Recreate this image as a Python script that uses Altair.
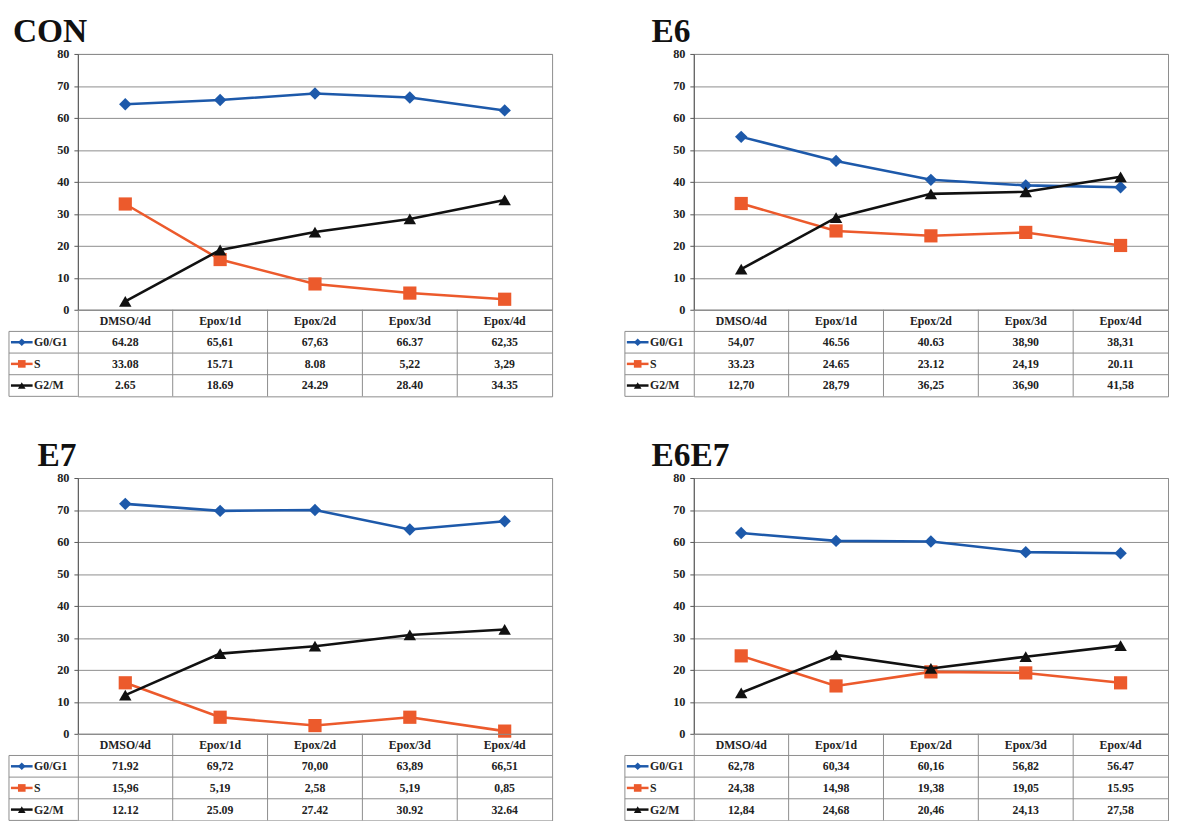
import altair as alt
import pandas as pd

categories = ["DMSO/4d", "Epox/1d", "Epox/2d", "Epox/3d", "Epox/4d"]
series = ["G0/G1", "S", "G2/M"]
series_colors = ["#1d59aa", "#ec5a2c", "#111111"]
series_shapes = ["diamond", "square", "triangle-up"]
marker_sizes = [160, 180, 160]
y_ticks = [0, 10, 20, 30, 40, 50, 60, 70, 80]

con_g0g1 = ["64.28", "65,61", "67,63", "66.37", "62,35"]
con_s = ["33.08", "15.71", "8.08", "5,22", "3,29"]
con_g2m = ["2.65", "18.69", "24.29", "28.40", "34.35"]

e6_g0g1 = ["54,07", "46.56", "40.63", "38,90", "38,31"]
e6_s = ["33.23", "24.65", "23.12", "24,19", "20.11"]
e6_g2m = ["12,70", "28,79", "36,25", "36,90", "41,58"]

e7_g0g1 = ["71.92", "69,72", "70,00", "63,89", "66,51"]
e7_s = ["15,96", "5,19", "2,58", "5,19", "0,85"]
e7_g2m = ["12.12", "25.09", "27.42", "30.92", "32.64"]

e6e7_g0g1 = ["62,78", "60,34", "60,16", "56,82", "56.47"]
e6e7_s = ["24,38", "14,98", "19,38", "19,05", "15.95"]
e6e7_g2m = ["12,84", "24,68", "20,46", "24,13", "27,58"]

FONT = "Liberation Serif, DejaVu Serif, serif"
GRID = "#8c8c8c"
W = 482
H = 260
TH = 88
LEG = 70
table_rows = ["hdr"] + series


def long_df(rows):
    recs = []
    for s, labels in zip(series, rows):
        for c, lab in zip(categories, labels):
            recs.append({"category": c, "series": s, "label": lab,
                         "value": float(lab.replace(",", "."))})
    return pd.DataFrame(recs)


def line_chart(df):
    x = alt.X("category:N", sort=categories,
              scale=alt.Scale(type="point", domain=categories, padding=0.5),
              axis=None)
    y = alt.Y("value:Q", scale=alt.Scale(domain=[0, 80], nice=False),
              axis=alt.Axis(values=y_ticks, title=None, grid=True,
                            gridColor=GRID, gridWidth=1,
                            domainColor="#555", tickColor="#555", tickSize=4,
                            labelPadding=5, labelFont=FONT,
                            labelFontWeight="bold", labelFontSize=12.5,
                            labelColor="#222"))
    layers = []
    for s, col, sh, sz in zip(series, series_colors, series_shapes, marker_sizes):
        b = alt.Chart(df).transform_filter(alt.datum.series == s).encode(x=x, y=y)
        layers.append(b.mark_line(color=col, strokeWidth=2.6))
        layers.append(b.mark_point(shape=sh, size=sz, filled=True, color=col, opacity=1))
    return alt.layer(*layers).properties(width=W, height=H)


def table_chart(df):
    hdr = pd.DataFrame({"col": categories, "row": "hdr", "text": categories})
    body = pd.DataFrame({"col": df["category"], "row": df["series"], "text": df["label"]})
    tdf = pd.concat([hdr, body], ignore_index=True)
    sx = alt.Scale(type="band", domain=categories, paddingInner=0, paddingOuter=0)
    sy = alt.Scale(type="band", domain=table_rows, paddingInner=0, paddingOuter=0)
    yaxis = alt.Axis(title=None, ticks=False, tickSize=0, domain=False, grid=False,
                     labelAlign="left", labelPadding=45,
                     labelExpr="datum.value == 'hdr' ? '' : datum.value",
                     labelFont=FONT, labelFontWeight="bold", labelFontSize=12,
                     labelColor="#222")

    text = alt.Chart(tdf).mark_text(font=FONT, fontWeight="bold", fontSize=12,
                                    color="#222").encode(
        x=alt.X("col:N", scale=sx, axis=None),
        y=alt.Y("row:N", scale=sy, axis=yaxis),
        text="text:N")
    vlines = alt.Chart(pd.DataFrame({"col": categories[1:]})).mark_rule(color=GRID).encode(
        x=alt.X("col:N", scale=sx, axis=None, bandPosition=0),
        y=alt.value(0), y2=alt.value(TH))
    hlines = alt.Chart(pd.DataFrame({"row": series})).mark_rule(color=GRID).encode(
        y=alt.Y("row:N", scale=sy, axis=yaxis, bandPosition=0),
        x=alt.value(-LEG), x2=alt.value(W))
    leg_left = alt.Chart(pd.DataFrame({"row": [series[0]]})).mark_rule(color=GRID).encode(
        y=alt.Y("row:N", scale=sy, axis=yaxis, bandPosition=0),
        y2=alt.value(TH), x=alt.value(-LEG))
    leg_bottom = alt.Chart(pd.DataFrame({"row": [series[0]]})).mark_rule(color=GRID).encode(
        y=alt.value(TH), x=alt.value(-LEG), x2=alt.value(0))
    cscale = alt.Scale(domain=series, range=series_colors)
    glyph_line = alt.Chart(pd.DataFrame({"row": series})).mark_rule(strokeWidth=2.5).encode(
        y=alt.Y("row:N", scale=sy, axis=yaxis, bandPosition=0.5),
        x=alt.value(-68), x2=alt.value(-46),
        color=alt.Color("row:N", scale=cscale, legend=None))
    glyph_pt = alt.Chart(pd.DataFrame({"row": series})).mark_point(
        filled=True, opacity=1, size=60).encode(
        y=alt.Y("row:N", scale=sy, axis=yaxis, bandPosition=0.5),
        x=alt.value(-57),
        color=alt.Color("row:N", scale=cscale, legend=None),
        shape=alt.Shape("row:N", scale=alt.Scale(domain=series, range=series_shapes),
                        legend=None))
    return alt.layer(vlines, hlines, leg_left, leg_bottom, glyph_line, glyph_pt, text).properties(
        width=W, height=TH)


def panel(name, rows, dx):
    df = long_df(rows)
    return alt.vconcat(
        line_chart(df), table_chart(df), spacing=0, bounds="flush",
        title=alt.TitleParams(name, anchor="start", dx=dx, fontSize=34, font=FONT,
                              fontWeight="bold", color="#111", offset=-1)
    ).resolve_scale(x="independent", y="independent", color="independent",
                    shape="independent")


p_con = panel("CON", [con_g0g1, con_s, con_g2m], 5)
p_e6 = panel("E6", [e6_g0g1, e6_s, e6_g2m], 28)
p_e7 = panel("E7", [e7_g0g1, e7_s, e7_g2m], 30)
p_e6e7 = panel("E6E7", [e6e7_g0g1, e6e7_s, e6e7_g2m], 28)

chart = alt.vconcat(
    alt.hconcat(p_con, p_e6, spacing=72),
    alt.hconcat(p_e7, p_e6e7, spacing=72),
    spacing=42,
).properties(padding=0).configure_view(stroke=GRID, strokeWidth=1)

chart.save("out.html", embed_options={"renderer": "svg", "actions": False})
